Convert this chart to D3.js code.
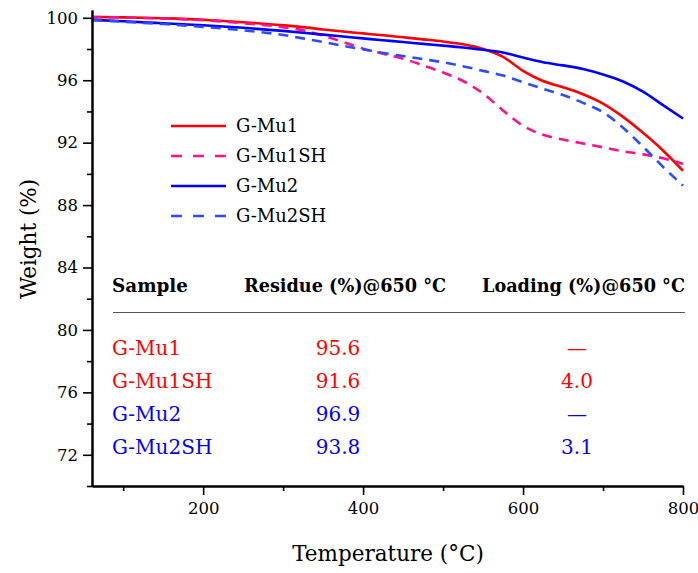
<!DOCTYPE html>
<html lang="en">
<head>
  <meta charset="UTF-8">
  <title>TGA</title>
  <script src="https://cdn.jsdelivr.net/npm/d3@7.9.0/dist/d3.min.js"></script>
  <style>
    body { margin: 0; background: #fff; }
    text { font-family: "DejaVu Serif", serif; }
  </style>
</head>
<body>
  <div id="chart"></div>
  <script>
    // temperature grid (°C) shared by all curves
    const temps = [61, 100, 150, 200, 250, 300, 325, 350, 375, 400, 425, 450, 475,
                   500, 525, 550, 575, 600, 625, 650, 675, 700, 725, 750, 775, 800];

    // weight (%)
    const gMu1   = [100.05, 100.03, 99.97, 99.88, 99.72, 99.52, 99.4, 99.25, 99.12, 99.0, 98.88, 98.75, 98.62,
                    98.48, 98.3, 98.0, 97.5, 96.6, 95.95, 95.55, 95.1, 94.5, 93.65, 92.63, 91.5, 90.2];
    const gMu1SH = [100.05, 100.02, 99.95, 99.85, 99.65, 99.4, 99.2, 98.85, 98.45, 98.02, 97.7, 97.38, 96.95,
                    96.5, 95.95, 95.16, 94.06, 93.08, 92.5, 92.2, 91.95, 91.7, 91.45, 91.25, 91.0, 90.65];
    const gMu2   = [99.87, 99.78, 99.65, 99.52, 99.36, 99.16, 99.04, 98.92, 98.8, 98.68, 98.56, 98.45, 98.33,
                    98.22, 98.1, 97.95, 97.78, 97.45, 97.15, 96.95, 96.72, 96.37, 95.92, 95.27, 94.4, 93.55];
    const gMu2SH = [99.87, 99.75, 99.6, 99.42, 99.2, 98.9, 98.68, 98.45, 98.2, 97.98, 97.75, 97.55, 97.35,
                    97.15, 96.9, 96.6, 96.3, 95.87, 95.45, 95.05, 94.55, 93.95, 92.96, 91.74, 90.45, 89.25];

    const seriesNames  = ["G-Mu1", "G-Mu1SH", "G-Mu2", "G-Mu2SH"];
    const seriesValues = [gMu1, gMu1SH, gMu2, gMu2SH];
    const seriesColors = ["#ff0000", "#ff1289", "#0000ff", "#2a4dff"];
    const seriesDashed = [false, true, false, true];

    // inset table
    const tableHeader  = ["Sample", "Residue (%)@650 °C", "Loading (%)@650 °C"];
    const tableResidue = ["95.6", "91.6", "96.9", "93.8"];
    const tableLoading = ["—", "4.0", "—", "3.1"];
    const tableColors  = ["#ff0000", "#ff0000", "#0000ff", "#0000ff"];

    const yMajor = [72, 76, 80, 84, 88, 92, 96, 100];
    const yMinor = [70, 74, 78, 82, 86, 90, 94, 98];
    const xMajor = [200, 400, 600, 800];
    const xMinor = [100, 300, 500, 700];

    const W = 698, H = 573;
    const svg = d3.select("#chart").append("svg")
      .attr("width", W).attr("height", H);

    const x = d3.scaleLinear().domain([61, 800]).range([92, 683]);
    const y = d3.scaleLinear().domain([70, 100.5]).range([486, 10]);

    // curves
    const line = d3.line()
      .x(d => x(d[0]))
      .y(d => y(d[1]))
      .curve(d3.curveMonotoneX);

    seriesValues.forEach((vals, i) => {
      svg.append("path")
        .datum(temps.map((t, j) => [t, vals[j]]))
        .attr("d", line)
        .attr("fill", "none")
        .attr("stroke", seriesColors[i])
        .attr("stroke-width", 2.6)
        .attr("stroke-dasharray", seriesDashed[i] ? "10,7" : null);
    });

    // axes
    const axisStyle = g => {
      g.selectAll("path.domain").attr("stroke", "#000").attr("stroke-width", 2);
      g.selectAll(".tick line").attr("stroke", "#000").attr("stroke-width", 1.6);
      g.selectAll(".tick text").attr("font-family", "DejaVu Serif").attr("font-size", 16.5).attr("fill", "#000");
    };

    svg.append("g")
      .attr("transform", "translate(92,0)")
      .call(d3.axisLeft(y).tickValues(yMinor).tickSize(5).tickSizeOuter(0).tickFormat(""))
      .call(axisStyle);
    svg.append("g")
      .attr("transform", "translate(92,0)")
      .call(d3.axisLeft(y).tickValues(yMajor).tickSize(9).tickSizeOuter(0).tickPadding(5))
      .call(axisStyle);

    svg.append("g")
      .attr("transform", "translate(0,486)")
      .call(d3.axisBottom(x).tickValues(xMinor).tickSize(5).tickSizeOuter(0).tickFormat(""))
      .call(axisStyle);
    svg.append("g")
      .attr("transform", "translate(0,486)")
      .call(d3.axisBottom(x).tickValues(xMajor).tickSize(9).tickSizeOuter(0).tickPadding(7))
      .call(axisStyle);

    svg.append("text")
      .attr("x", 388).attr("y", 561)
      .attr("text-anchor", "middle")
      .attr("font-size", 21.5)
      .text("Temperature (°C)");

    svg.append("text")
      .attr("transform", "translate(36,239) rotate(-90)")
      .attr("text-anchor", "middle")
      .attr("font-size", 21.5)
      .text("Weight (%)");

    // legend
    const legend = svg.append("g");
    seriesNames.forEach((name, i) => {
      const ly = 126 + i * 30;
      legend.append("line")
        .attr("x1", 171).attr("x2", 226).attr("y1", ly).attr("y2", ly)
        .attr("stroke", seriesColors[i])
        .attr("stroke-width", 2.6)
        .attr("stroke-dasharray", seriesDashed[i] ? "11,11" : null);
      legend.append("text")
        .attr("x", 236).attr("y", ly + 6)
        .attr("font-size", 18)
        .text(name);
    });

    // inset table
    const table = svg.append("g");
    const headX = [112, 244, 482];
    const headW = [76, 202, 203];
    tableHeader.forEach((h, i) => {
      table.append("text")
        .attr("x", headX[i]).attr("y", 292)
        .attr("font-size", 18)
        .attr("font-weight", "bold")
        .attr("textLength", headW[i])
        .attr("lengthAdjust", "spacingAndGlyphs")
        .text(h);
    });
    table.append("line")
      .attr("x1", 113).attr("x2", 685).attr("y1", 312.5).attr("y2", 312.5)
      .attr("stroke", "#555").attr("stroke-width", 1);

    seriesNames.forEach((name, i) => {
      const ry = 355 + i * 33;
      table.append("text")
        .attr("x", 112).attr("y", ry)
        .attr("font-size", 20)
        .attr("fill", tableColors[i])
        .text(name);
      table.append("text")
        .attr("x", 338).attr("y", ry)
        .attr("text-anchor", "middle")
        .attr("font-size", 20)
        .attr("fill", tableColors[i])
        .text(tableResidue[i]);
      table.append("text")
        .attr("x", 577).attr("y", ry)
        .attr("text-anchor", "middle")
        .attr("font-size", 20)
        .attr("fill", tableColors[i])
        .text(tableLoading[i]);
    });
  </script>
</body>
</html>
